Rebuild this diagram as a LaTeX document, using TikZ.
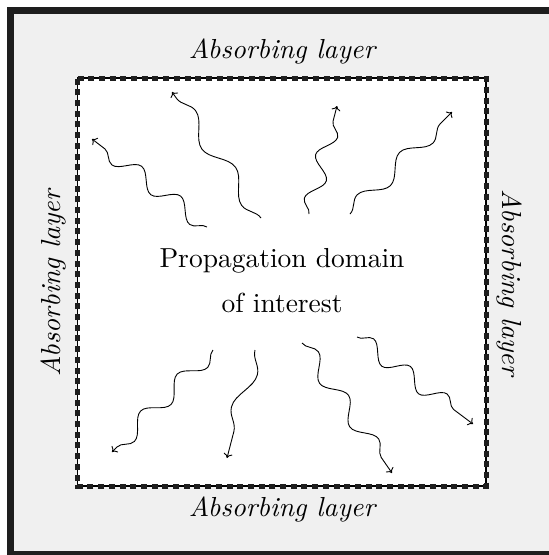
\documentclass[tikz,border=0pt]{standalone}
\usetikzlibrary{decorations.pathmorphing,arrows.meta}
\definecolor{framegray}{HTML}{1E1E1E}
\definecolor{layergray}{HTML}{F0F0F0}
% text set at 10pt and enlarged, keeping the 10pt design size
\newcommand{\bigtext}[1]{\scalebox{2.75}{#1}}
\begin{document}
\begin{tikzpicture}[x=1pt,y=-1pt,
  layerlabel/.style={font=\itshape,anchor=base,inner sep=0pt},
  domainlabel/.style={anchor=base,inner sep=0pt},
  wave/.style={line width=0.9pt,-{To[length=4.5pt,width=9pt]},decorate,
    decoration={snake,amplitude=8.5pt,segment length=#1,post length=2pt}}]
  \useasboundingbox (0,0) rectangle (549,555);
  \clip (0,0) rectangle (549,555);
  % absorbing region and outer frame (its right side lies past the page edge)
  \fill[white] (0,0) rectangle (549,555);
  \fill[layergray] (10,10) rectangle (549,555);
  \draw[line width=7pt,draw=framegray] (600,10) -- (10,10) -- (10,554.5) -- (600,554.5);
  % domain of interest with its dashed boundary
  \draw[line width=1.8pt,fill=white] (77.5,78) rectangle (486,486);
  \draw[line width=5pt,draw=framegray,dash pattern=on 6pt off 4.7pt] (77.5,78) -- (486,78) -- (486,486) -- (77.5,486) -- cycle;
  % labels
  \node[domainlabel] (dom1) at (282,267) {\bigtext{Propagation domain}};
  \node[domainlabel] (dom2) at (282,312) {\bigtext{of interest}};
  \node[layerlabel] (top) at (282,58) {\bigtext{Absorbing layer}};
  \node[layerlabel] (bottom) at (282,516) {\bigtext{Absorbing layer}};
  \node[layerlabel,rotate=90] (left) at (60,283) {\bigtext{Absorbing layer}};
  \node[layerlabel,rotate=-90] (right) at (502,283) {\bigtext{Absorbing layer}};
  % outgoing waves
  \coordinate (s1) at (207,227); \coordinate (t1) at (92,139);
  \coordinate (s2) at (261,218); \coordinate (t2) at (172,92);
  \coordinate (s3) at (309,214); \coordinate (t3) at (337,106);
  \coordinate (s4) at (350,214); \coordinate (t4) at (452,112);
  \coordinate (s5) at (213,350); \coordinate (t5) at (112,452);
  \coordinate (s6) at (255,350); \coordinate (t6) at (227,458);
  \coordinate (s7) at (302,343); \coordinate (t7) at (392,473);
  \coordinate (s8) at (357,337); \coordinate (t8) at (473,424);
  \draw[wave=49pt] (s1) -- (t1);
  \draw[wave=69pt] (s2) -- (t2);
  \draw[wave=45pt] (s3) -- (t3);
  \draw[wave=60pt] (s4) -- (t4);
  \draw[wave=52pt] (s5) -- (t5);
  \draw[wave=75pt] (s6) -- (t6);
  \draw[wave=53pt] (s7) -- (t7);
  \draw[wave=46pt] (s8) -- (t8);
\end{tikzpicture}
\end{document}
